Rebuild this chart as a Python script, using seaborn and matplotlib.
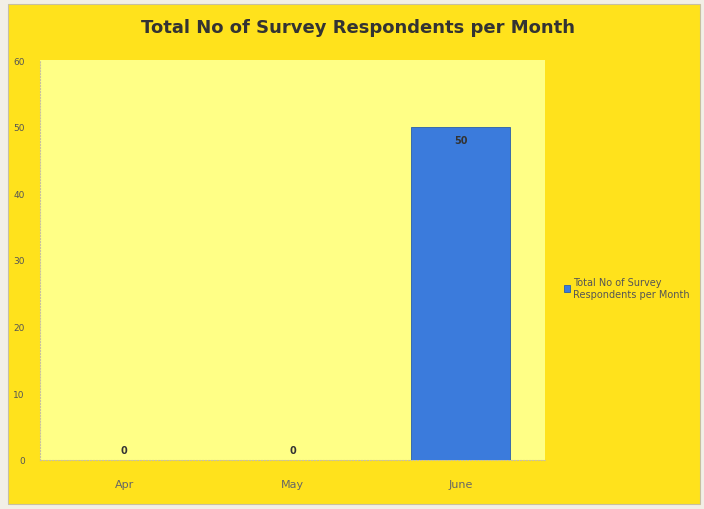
import matplotlib
matplotlib.use("Agg")
import matplotlib.pyplot as plt
import seaborn as sns
from matplotlib.patches import Rectangle

months = ["Apr", "May", "June"]
respondents = [0, 0, 50]
series_name = "Total No of Survey\nRespondents per Month"
title = "Total No of Survey Respondents per Month"
yticks = [0, 10, 20, 30, 40, 50, 60]

sns.set_style("white")
plt.rcParams["font.family"] = ["DejaVu Sans"]

fig = plt.figure(figsize=(7.04, 5.10), dpi=100, facecolor="#f2efe6")
# yellow chart area
fig.patches.append(Rectangle((8 / 704, 5 / 510), 692 / 704, 500 / 510,
                             transform=fig.transFigure, facecolor="#ffe21c",
                             edgecolor="#c8c0a0", linewidth=0.8, zorder=-10))

ax = fig.add_axes([40 / 704, 49 / 510, 505 / 704, 400 / 510])
ax.set_facecolor("#ffff86")

sns.barplot(x=months, y=respondents, color="#3b7bdc", width=0.59,
            saturation=1, label=series_name, ax=ax, zorder=3)
for p in ax.patches:
    p.set_edgecolor("#2a5fa8")
    p.set_linewidth(0.6)

for i, v in enumerate(respondents):
    ypos = v - 2.0 if v > 0 else 1.5
    ax.text(i, ypos, str(v), ha="center", va="center", fontsize=7,
            fontweight="bold", color="#333333", zorder=4)

ax.set_ylim(0, 60)
ax.set_yticks(yticks)
ax.set_yticklabels([str(t) for t in yticks], fontsize=6.5, color="#555555")
ax.tick_params(axis="y", length=0, pad=11)
ax.tick_params(axis="x", length=0, labelsize=8, labelcolor="#666666", pad=14)
ax.set_xlabel("")
ax.set_ylabel("")
for side in ["top", "right"]:
    ax.spines[side].set_visible(False)
for side in ["left", "bottom"]:
    ax.spines[side].set_color("#c8c0a0")
    ax.spines[side].set_linestyle(":")
    ax.spines[side].set_linewidth(0.8)

fig.text(358 / 704, 1 - 28 / 510, title, ha="center", va="center",
         fontsize=13, fontweight="bold", color="#333333")

ax.legend(loc="center left", bbox_to_anchor=(1.02, 0.43), frameon=False,
          fontsize=7, handlelength=0.6, handleheight=0.6, handletextpad=0.3,
          labelcolor="#555555")

fig.savefig("out.png", dpi=100, facecolor=fig.get_facecolor())
